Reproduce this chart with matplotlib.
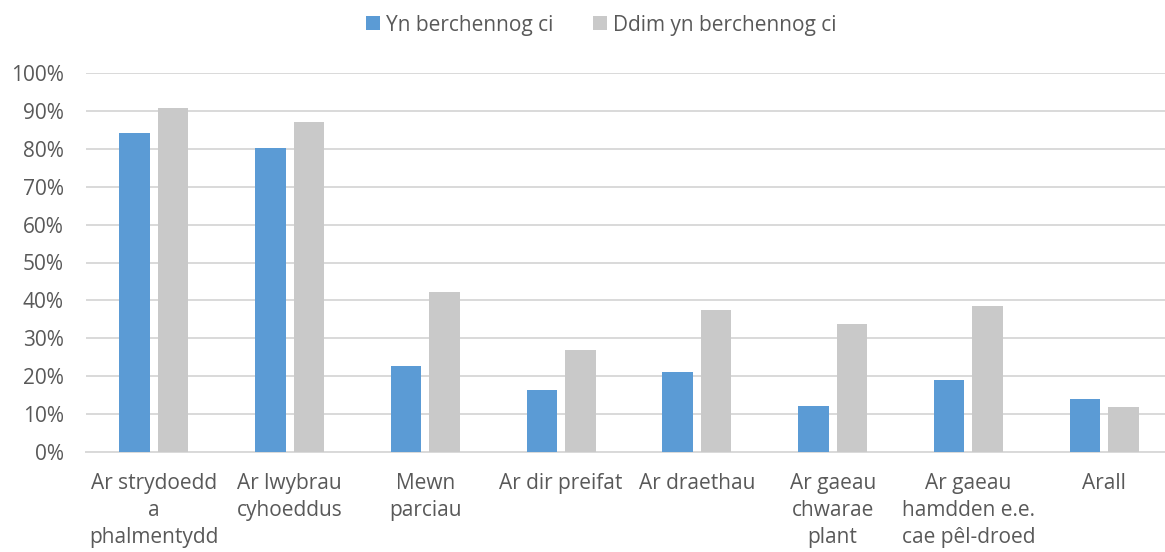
import numpy as np
import matplotlib
matplotlib.use('Agg')
import matplotlib.pyplot as plt
from matplotlib.ticker import FuncFormatter

categories = ['Ar strydoedd\na\nphalmentydd', 'Ar lwybrau\ncyhoeddus', 'Mewn\nparciau',
              'Ar dir preifat', 'Ar draethau', 'Ar gaeau\nchwarae\nplant',
              'Ar gaeau\nhamdden e.e.\ncae pêl-droed', 'Arall']
owners = [84.1, 80.2, 22.6, 16.3, 21.1, 12.1, 19.0, 13.9]
nonOwners = [90.7, 87.1, 42.1, 26.8, 37.4, 33.8, 38.6, 11.7]
seriesNames = ['Yn berchennog ci', 'Ddim yn berchennog ci']

plt.rcParams['font.family'] = ['Open Sans', 'DejaVu Sans']
textColor = '#595959'
gridColor = '#D9D9D9'

fig = plt.figure(figsize=(11.65, 5.52), dpi=100)
ax = fig.add_axes([86/1165, 1 - 451.7/552, (1172 - 86)/1165, (451.7 - 73.3)/552])

x = np.arange(len(categories))
w = 0.225
ax.bar(x - 0.142, owners, w, color='#5B9BD5', label=seriesNames[0], zorder=3)
ax.bar(x + 0.142, nonOwners, w, color='#C9C9C9', label=seriesNames[1], zorder=3)

ax.set_xlim(-0.5, len(categories) - 0.5)
ax.set_ylim(0, 100)
ax.set_yticks(range(0, 101, 10))
ax.yaxis.set_major_formatter(FuncFormatter(lambda v, p: '{:.0f}%'.format(v)))
ax.set_xticks(x)
ax.set_xticklabels(categories, linespacing=1.4)
ax.grid(axis='y', color=gridColor, linewidth=1.4, zorder=0)
for s in ['top', 'right', 'left']:
    ax.spines[s].set_visible(False)
ax.spines['bottom'].set_color(gridColor)
ax.spines['bottom'].set_linewidth(1.4)
ax.tick_params(axis='both', length=0, labelsize=15, labelcolor=textColor)
ax.tick_params(axis='y', pad=16)
ax.tick_params(axis='x', pad=15)

fig.legend(loc='center', bbox_to_anchor=(601/1165, 1 - 25/552), ncol=2, frameon=False,
           fontsize=15, labelcolor=textColor, handlelength=0.67, handleheight=0.67,
           handletextpad=0.3, columnspacing=1.9)

plt.savefig('out.png', dpi=100)
plt.close()
